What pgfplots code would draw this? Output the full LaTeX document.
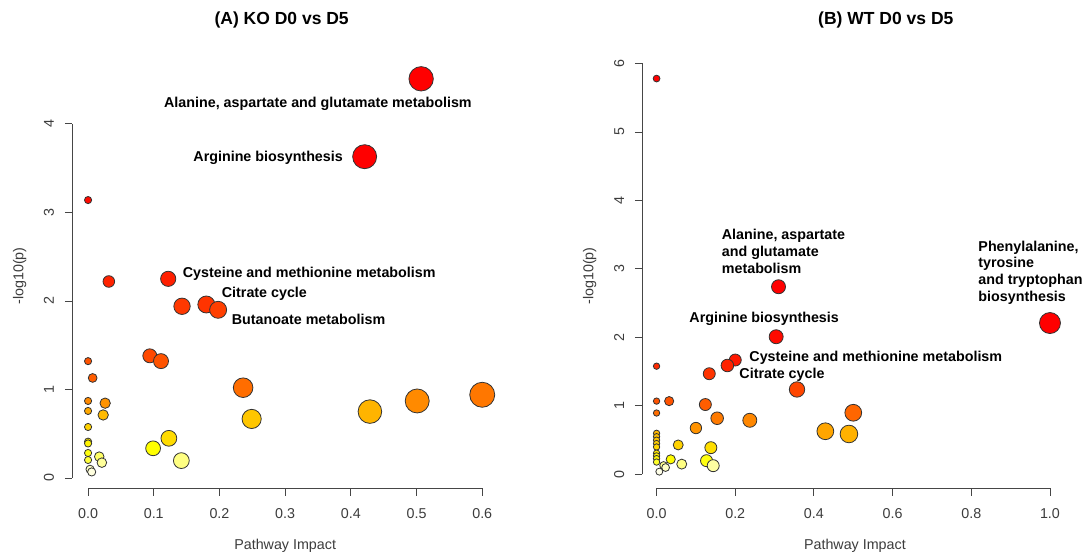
\documentclass[border=0pt]{standalone}
\usepackage{pgfplots}
\pgfplotsset{compat=1.18}
\usepackage{pgfplotstable}
\usepackage{fontspec}
\setmainfont{Liberation Sans}
\definecolor{axgray}{RGB}{70,70,70}
\definecolor{txtgray}{RGB}{60,60,60}
\newcommand{\lbl}{\fontsize{14.3}{17}\selectfont\bfseries}

\pgfplotstableread{
x y c r
0.507 4.51 10 12.2
0.421 3.63 10 12.0
0.000 3.14 9.7 3.6
0.122 2.25 9.1 7.6
0.0316 2.22 9.0 5.8
0.180 1.96 8.5 8.5
0.143 1.94 8.4 8.2
0.198 1.90 8.2 8.5
0.094 1.38 7.9 7.0
0.000 1.32 7.6 3.6
0.111 1.32 7.6 7.5
0.007 1.13 7.3 4.4
0.236 1.02 6.8 9.8
0.600 0.94 6.5 12.5
0.501 0.87 5.9 12.0
0.000 0.87 5.9 3.6
0.026 0.845 5.6 5.2
0.000 0.757 4.9 3.6
0.429 0.75 4.5 11.8
0.023 0.712 4.3 5.2
0.249 0.667 3.9 9.6
0.000 0.576 3.5 3.6
0.123 0.448 3.2 7.9
0.000 0.41 2.8 3.6
0.000 0.39 2.4 3.6
0.099 0.335 2.0 7.4
0.000 0.282 1.9 3.6
0.017 0.241 1.3 4.8
0.000 0.203 1.6 3.6
0.142 0.196 1.1 7.9
0.021 0.173 0.9 4.8
0.003 0.098 0.4 4.1
0.0055 0.068 0.1 4.1
}\tabA

\pgfplotstableread{
x y c r
0.000 5.78 10 3.4
0.310 2.74 10 7.0
1.000 2.21 10 10.5
0.304 2.01 9.7 7.0
0.200 1.67 9.3 6.0
0.180 1.59 9.0 6.3
0.000 1.58 8.8 3.2
0.134 1.47 8.5 6.0
0.357 1.24 8.0 7.7
0.000 1.07 7.6 3.2
0.032 1.07 7.6 4.6
0.124 1.02 7.3 6.0
0.500 0.90 7.0 8.4
0.000 0.896 6.8 3.2
0.154 0.82 6.4 6.3
0.237 0.79 6.0 7.0
0.100 0.677 5.6 5.7
0.429 0.63 5.0 8.4
0.000 0.60 4.4 3.2
0.489 0.59 4.6 8.8
0.000 0.55 4.1 3.2
0.000 0.50 3.9 3.2
0.000 0.45 3.6 3.2
0.055 0.43 3.5 5.0
0.000 0.40 3.3 3.2
0.138 0.39 3.1 6.0
0.000 0.31 2.8 3.2
0.000 0.27 2.5 3.2
0.000 0.23 2.3 3.2
0.036 0.22 2.1 4.6
0.127 0.20 1.9 6.0
0.000 0.18 1.7 3.2
0.064 0.15 1.1 5.0
0.018 0.13 1.0 3.9
0.144 0.127 0.8 6.0
0.023 0.10 0.4 3.9
0.007 0.04 0.0 3.5
}\tabB

\tikzset{axl/.style={draw=axgray, line width=0.9pt}}
\pgfplotsset{
  rstyle/.style={
    anchor=south west, scale only axis, clip=false,
    axis x line*=bottom, axis y line*=left,
    axis line style={draw=none},
    tick align=outside, major tick length=7.5pt,
    tick style={draw=axgray, line width=0.9pt},
    /pgf/number format/assume math mode=true,
    ticklabel style={font=\fontsize{14.3}{17}\selectfont, text=txtgray},
    xticklabel style={anchor=base, /pgf/number format/.cd, fixed, fixed zerofill, precision=1},
    yticklabel style={anchor=base, rotate=90},
    xticklabel shift=22.3pt, yticklabel shift=10.8pt,
    xlabel={Pathway Impact}, ylabel={-log10(p)},
    label style={font=\fontsize{14.3}{17}\selectfont, text=txtgray},
    xlabel style={at={([yshift=-60.8pt]axis description cs:0.5,0)}, anchor=base},
    ylabel style={at={([xshift=-49pt]axis description cs:0,0.5)}, anchor=base, rotate=0},
    title style={font=\fontsize{17.5}{20}\selectfont\bfseries, anchor=base},
    colormap={heatR}{rgb255(0cm)=(255,255,232) rgb255(1cm)=(255,255,145) rgb255(2cm)=(255,255,0) rgb255(4cm)=(255,195,0) rgb255(6cm)=(255,135,0) rgb255(8cm)=(255,70,0) rgb255(10cm)=(255,0,0)},
    point meta min=0, point meta max=10,
  },
  bub/.style={scatter, only marks, mark=*, point meta=explicit,
    scatter/use mapped color={draw=black!80, fill=mapped color},
    visualization depends on={\thisrow{r}\as\rr},
    scatter/@pre marker code/.append style={/tikz/mark size=\rr pt},
    mark options={line width=0.8pt}},
}

\begin{document}
\begin{tikzpicture}
\useasboundingbox (0pt,0pt) rectangle (1084pt,553pt);
\begin{axis}[rstyle, at={(72.3pt,64.5pt)}, width=425.7pt, height=425pt,
  xmin=-0.024, xmax=0.624, ymin=-0.119, ymax=4.683,
  xtick={0,0.1,0.2,0.3,0.4,0.5,0.6}, ytick={0,1,2,3,4},
  title={(A) KO D0 vs D5},
  title style={at={([xshift=-3.5pt,yshift=32.5pt]axis description cs:0.5,1)}}]
\addplot[bub] table[x=x, y=y, meta=c] {\tabA};
\draw[axl] (axis cs:0,-0.119) -- (axis cs:0.6,-0.119);
\draw[axl] (axis cs:-0.024,0) -- (axis cs:-0.024,4);
\node[font=\lbl, anchor=base west, inner sep=0pt] at (axis cs:0.1155,4.189) {Alanine, aspartate and glutamate metabolism};
\node[font=\lbl, anchor=base west, inner sep=0pt] at (axis cs:0.1601,3.574) {Arginine biosynthesis};
\node[font=\lbl, anchor=base west, inner sep=0pt] at (axis cs:0.144,2.268) {Cysteine and methionine metabolism};
\node[font=\lbl, anchor=base west, inner sep=0pt] at (axis cs:0.2034,2.037) {Citrate cycle};
\node[font=\lbl, anchor=base west, inner sep=0pt] at (axis cs:0.2186,1.732) {Butanoate metabolism};
\end{axis}

\begin{axis}[rstyle, at={(642.4pt,64.5pt)}, width=425pt, height=425pt,
  xmin=-0.036, xmax=1.0443, ymin=-0.206, ymax=6.0,
  xtick={0,0.2,0.4,0.6,0.8,1.0}, ytick={0,1,2,3,4,5,6},
  title={(B) WT D0 vs D5},
  title style={at={([xshift=30.9pt,yshift=32.5pt]axis description cs:0.5,1)}}]
\addplot[bub] table[x=x, y=y, meta=c] {\tabB};
\draw[axl] (axis cs:0,-0.206) -- (axis cs:1,-0.206);
\draw[axl] (axis cs:-0.036,0) -- (axis cs:-0.036,6);
\node[font=\lbl, anchor=base west, inner sep=0pt] at (axis cs:0.1655,3.432) {Alanine, aspartate};
\node[font=\lbl, anchor=base west, inner sep=0pt] at (axis cs:0.1655,3.188) {and glutamate};
\node[font=\lbl, anchor=base west, inner sep=0pt] at (axis cs:0.1655,2.936) {metabolism};
\node[font=\lbl, anchor=base west, inner sep=0pt] at (axis cs:0.8177,3.251) {Phenylalanine,};
\node[font=\lbl, anchor=base west, inner sep=0pt] at (axis cs:0.8177,3.023) {tyrosine};
\node[font=\lbl, anchor=base west, inner sep=0pt] at (axis cs:0.8177,2.775) {and tryptophan};
\node[font=\lbl, anchor=base west, inner sep=0pt] at (axis cs:0.8177,2.521) {biosynthesis};
\node[font=\lbl, anchor=base west, inner sep=0pt] at (axis cs:0.0831,2.215) {Arginine biosynthesis};
\node[font=\lbl, anchor=base west, inner sep=0pt] at (axis cs:0.2356,1.645) {Cysteine and methionine metabolism};
\node[font=\lbl, anchor=base west, inner sep=0pt] at (axis cs:0.2102,1.403) {Citrate cycle};
\end{axis}
\end{tikzpicture}
\end{document}
